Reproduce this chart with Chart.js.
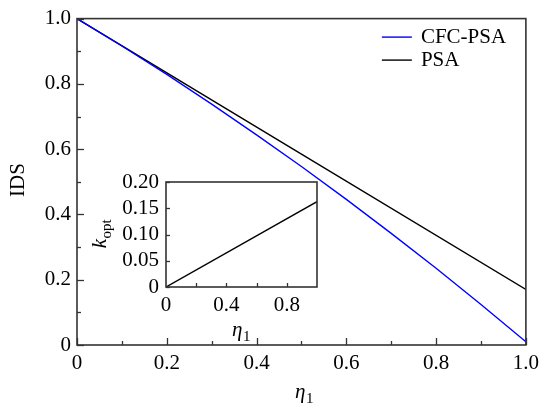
<!DOCTYPE html>
<html>
<head>
<meta charset="utf-8">
<script src="https://cdn.jsdelivr.net/npm/chart.js@4.4.1/dist/chart.umd.min.js"></script>
<style>
  body { margin: 0; background: #fff; font-family: "Liberation Serif", "DejaVu Serif", serif; }
  #wrap { position: relative; width: 545px; height: 403px; }
  #wrap canvas { position: absolute; left: 0; top: 0; }
</style>
</head>
<body>
<div id="wrap">
  <canvas id="mainChart" width="545" height="403"></canvas>
  <canvas id="insetChart" width="545" height="403"></canvas>
</div>
<script>
// main plot: IDS vs eta1
const eta = [0, 0.1, 0.2, 0.3, 0.4, 0.5, 0.6, 0.7, 0.8, 0.9, 1.0];
const cfcPsa = [1.0, 0.916, 0.829, 0.738, 0.644, 0.547, 0.446, 0.342, 0.235, 0.124, 0.01];
const psaEta = [0, 0.5, 1.0];
const psa = [1.0, 0.585, 0.17];

// inset: k_opt vs eta1
const insetEta = [0, 1.0];
const kOpt = [0, 0.1625];

// tick labels
const mainXLabels = ['0', '0.2', '0.4', '0.6', '0.8', '1.0'];
const mainYLabels = ['0', '0.2', '0.4', '0.6', '0.8', '1.0'];
const mainMinor = [0.1, 0.3, 0.5, 0.7, 0.9];
const insetXLabels = ['0', '0.4', '0.8'];
const insetXTicks = [0.2, 0.4, 0.6, 0.8];
const insetYLabels = ['0', '0.05', '0.10', '0.15', '0.20'];

const FONT = '"Liberation Serif", "DejaVu Serif", serif';
const toPts = (xs, ys) => xs.map((x, i) => ({ x: x, y: ys[i] }));

// inward tick marks + frame
const frameTicks = {
  id: 'frameTicks',
  afterDatasetsDraw(chart, args, opts) {
    const { ctx, chartArea: a, scales } = chart;
    ctx.save();
    ctx.strokeStyle = '#333';
    ctx.lineWidth = 1.3;
    opts.x.forEach(t => {
      const px = Math.round(scales.x.getPixelForValue(t[0])) + 0.5;
      ctx.beginPath();
      ctx.moveTo(px, a.bottom);
      ctx.lineTo(px, a.bottom - t[1]);
      ctx.stroke();
    });
    opts.y.forEach(t => {
      const py = Math.round(scales.y.getPixelForValue(t[0])) + 0.5;
      ctx.beginPath();
      ctx.moveTo(a.left, py);
      ctx.lineTo(a.left + t[1], py);
      ctx.stroke();
    });
    ctx.lineWidth = 1.6;
    ctx.strokeRect(a.left, a.top, a.right - a.left, a.bottom - a.top);
    ctx.restore();
  }
};

// axis titles with subscripts, and the legend
const titles = {
  id: 'titles',
  afterDraw(chart, args, opts) {
    const ctx = chart.ctx;
    ctx.save();
    ctx.fillStyle = '#000';
    ctx.textBaseline = 'alphabetic';
    (opts.items || []).forEach(it => {
      ctx.save();
      ctx.translate(it.x, it.y);
      if (it.rotate) ctx.rotate(-Math.PI / 2);
      const mainFont = (it.italic ? 'italic ' : '') + it.size + 'px ' + FONT;
      const subFont = it.subSize + 'px ' + FONT;
      ctx.font = mainFont;
      const w1 = ctx.measureText(it.main).width;
      let w2 = 0;
      if (it.sub) {
        ctx.font = subFont;
        w2 = ctx.measureText(it.sub).width;
      }
      const x0 = -(w1 + w2) / 2;
      ctx.font = mainFont;
      ctx.textAlign = 'left';
      ctx.fillText(it.main, x0, it.size * 0.35);
      if (it.sub) {
        ctx.font = subFont;
        ctx.fillText(it.sub, x0 + w1 + 0.5, it.size * 0.35 + it.size * 0.22);
      }
      ctx.restore();
    });
    if (opts.legend) {
      const a = chart.chartArea;
      const lx = a.right - 144;
      chart.data.datasets.forEach((ds, i) => {
        const y = a.top + 18 + i * 23;
        ctx.strokeStyle = ds.borderColor;
        ctx.lineWidth = 1.4;
        ctx.beginPath();
        ctx.moveTo(lx, y + 0.5);
        ctx.lineTo(lx + 30, y + 0.5);
        ctx.stroke();
        ctx.font = '21px ' + FONT;
        ctx.textAlign = 'left';
        ctx.textBaseline = 'middle';
        ctx.fillText(ds.label, lx + 39, y + 1);
      });
    }
    ctx.restore();
  }
};

const tickFont = { family: FONT, size: 21 };

new Chart(document.getElementById('mainChart'), {
  type: 'line',
  data: {
    datasets: [
      {
        label: 'CFC-PSA',
        data: toPts(eta, cfcPsa),
        borderColor: '#0000ff',
        borderWidth: 1.4,
        pointRadius: 0,
        tension: 0
      },
      {
        label: 'PSA',
        data: toPts(psaEta, psa),
        borderColor: '#000000',
        borderWidth: 1.4,
        pointRadius: 0,
        tension: 0
      }
    ]
  },
  options: {
    responsive: false,
    animation: false,
    layout: { padding: { left: 7, top: 15, right: 14, bottom: 8 } },
    scales: {
      x: {
        type: 'linear',
        min: 0,
        max: 1,
        grid: { display: false, drawTicks: false },
        border: { display: false },
        afterFit: s => { s.height = 50; },
        afterBuildTicks: s => { s.ticks = mainXLabels.map(l => ({ value: parseFloat(l) })); },
        ticks: {
          autoSkip: false,
          maxRotation: 0,
          padding: 6,
          color: '#000',
          font: tickFont,
          callback: (v, i) => mainXLabels[i]
        }
      },
      y: {
        type: 'linear',
        min: 0,
        max: 1,
        grid: { display: false, drawTicks: false },
        border: { display: false },
        afterFit: s => { s.width = 70; },
        afterBuildTicks: s => { s.ticks = mainYLabels.map(l => ({ value: parseFloat(l) })); },
        ticks: {
          autoSkip: false,
          padding: 6,
          color: '#000',
          font: tickFont,
          callback: (v, i) => mainYLabels[i]
        }
      }
    },
    plugins: {
      legend: { display: false },
      tooltip: { enabled: false },
      frameTicks: {
        x: mainXLabels.map(l => [parseFloat(l), 7]).concat(mainMinor.map(v => [v, 4])),
        y: mainYLabels.map(l => [parseFloat(l), 7]).concat(mainMinor.map(v => [v, 4]))
      },
      titles: {
        legend: true,
        items: [
          { x: 17, y: 180, rotate: true, main: 'IDS', size: 21 },
          { x: 304, y: 391, main: 'η', italic: true, size: 21, sub: '1', subSize: 15 }
        ]
      }
    }
  },
  plugins: [frameTicks, titles]
});

new Chart(document.getElementById('insetChart'), {
  type: 'line',
  data: {
    datasets: [
      {
        label: 'k_opt',
        data: toPts(insetEta, kOpt),
        borderColor: '#000000',
        borderWidth: 1.4,
        pointRadius: 0,
        tension: 0
      }
    ]
  },
  options: {
    responsive: false,
    animation: false,
    layout: { padding: { left: 106, top: 182, right: 228, bottom: 56 } },
    scales: {
      x: {
        type: 'linear',
        min: 0,
        max: 1,
        grid: { display: false, drawTicks: false },
        border: { display: false },
        afterFit: s => { s.height = 60; },
        afterBuildTicks: s => { s.ticks = insetXLabels.map(l => ({ value: parseFloat(l) })); },
        ticks: {
          autoSkip: false,
          maxRotation: 0,
          padding: 6,
          color: '#000',
          font: tickFont,
          callback: (v, i) => insetXLabels[i]
        }
      },
      y: {
        type: 'linear',
        min: 0,
        max: 0.2,
        grid: { display: false, drawTicks: false },
        border: { display: false },
        afterFit: s => { s.width = 60; },
        afterBuildTicks: s => { s.ticks = insetYLabels.map(l => ({ value: parseFloat(l) })); },
        ticks: {
          autoSkip: false,
          padding: 7,
          color: '#000',
          font: tickFont,
          callback: (v, i) => insetYLabels[i]
        }
      }
    },
    plugins: {
      legend: { display: false },
      tooltip: { enabled: false },
      frameTicks: {
        x: insetXTicks.map(v => [v, 4]),
        y: insetYLabels.map(l => [parseFloat(l), 4])
      },
      titles: {
        items: [
          { x: 99, y: 234, rotate: true, main: 'k', italic: true, size: 21, sub: 'opt', subSize: 15 },
          { x: 241, y: 329, main: 'η', italic: true, size: 21, sub: '1', subSize: 15 }
        ]
      }
    }
  },
  plugins: [frameTicks, titles]
});
</script>
</body>
</html>
